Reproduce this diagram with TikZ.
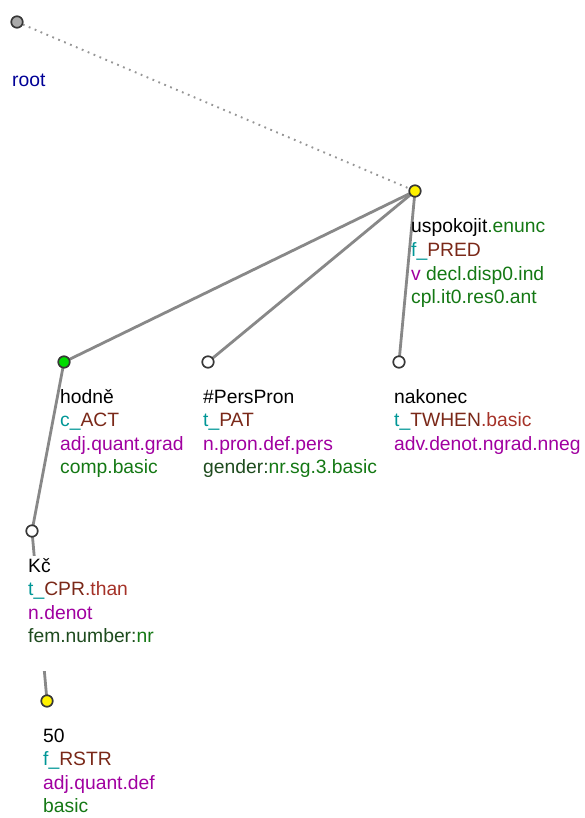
\documentclass[tikz,border=0pt]{standalone}
\usepackage{fontspec}
\setmainfont{Liberation Sans}
\definecolor{tealc}{RGB}{0,150,150}
\definecolor{brownc}{RGB}{122,40,24}
\definecolor{lbrown}{RGB}{165,50,40}
\definecolor{purp}{RGB}{160,0,160}
\definecolor{grn}{RGB}{20,120,20}
\definecolor{dgrn}{RGB}{30,75,30}
\definecolor{rootblue}{RGB}{0,0,150}
\definecolor{edgegray}{RGB}{136,136,136}
\definecolor{dotgray}{RGB}{150,150,150}
\begin{document}
\begin{tikzpicture}[x=1pt,y=-1pt,
  tnode/.style={circle,draw={rgb,255:red,55;green,55;blue,55},line width=1.7pt,minimum size=11.5pt,inner sep=0pt},
  lbl/.style={anchor=base west,inner sep=0pt,font=\fontsize{19.3}{22}\selectfont},
  boxed/.style={fill=white,text height=16pt,text depth=8pt},
  edge/.style={draw=edgegray,line width=2.8pt},
  rootedge/.style={draw=dotgray,line width=1.9pt,dash pattern=on 1.8pt off 4.6pt}]
\useasboundingbox (0,0) rectangle (585,818);
% edges first
\coordinate (cr) at (17,22);
\coordinate (cu) at (415,191);
\coordinate (ch) at (64,362);
\coordinate (cp) at (208,362);
\coordinate (cn) at (399,362);
\coordinate (ck) at (32,531);
\coordinate (c5) at (47,701);
\draw[rootedge] (cr) -- (cu);
\draw[edge] (cu) -- (ch);
\draw[edge] (cu) -- (cp);
\draw[edge] (cu) -- (cn);
\draw[edge] (ch) -- (ck);
\draw[edge] (ck) -- (c5);
% nodes
\node[tnode,fill={rgb,255:red,170;green,170;blue,170}] (root) at (cr) {};
\node[tnode,fill=yellow] (usp) at (cu) {};
\node[tnode,fill={rgb,255:red,0;green,220;blue,0}] (hod) at (ch) {};
\node[tnode,fill=white] (pp) at (cp) {};
\node[tnode,fill=white] (nak) at (cn) {};
\node[tnode,fill=white] (kc) at (ck) {};
\node[tnode,fill=yellow] (n50) at (c5) {};
% labels
\node[lbl,text=rootblue] (lroot) at (12,87) {root};
\node[lbl] (u1) at (411,233) {uspokojit\textcolor{grn}{.enunc}};
\node[lbl] (u2) at (411,256.5) {\textcolor{tealc}{f\_}\textcolor{brownc}{PRED}};
\node[lbl] (u3) at (411,280) {\textcolor{purp}{v} \textcolor{grn}{decl.disp0.ind}};
\node[lbl,text=grn] (u4) at (411,303.5) {cpl.it0.res0.ant};
\node[lbl] (h1) at (60,403) {hodně};
\node[lbl] (h2) at (60,426.5) {\textcolor{tealc}{c\_}\textcolor{brownc}{ACT}};
\node[lbl,text=purp] (h3) at (60,450) {adj.quant.grad};
\node[lbl,text=grn] (h4) at (60,473.5) {comp.basic};
\node[lbl] (p1) at (203,403) {\#PersPron};
\node[lbl] (p2) at (203,426.5) {\textcolor{tealc}{t\_}\textcolor{brownc}{PAT}};
\node[lbl,text=purp] (p3) at (203,450) {n.pron.def.pers};
\node[lbl] (p4) at (203,473.5) {\textcolor{dgrn}{gender:}\textcolor{grn}{nr.sg.3.basic}};
\node[lbl] (k1) at (394,403) {nakonec};
\node[lbl] (k2) at (394,426.5) {\textcolor{tealc}{t\_}\textcolor{brownc}{TWHEN}\textcolor{lbrown}{.basic}};
\node[lbl,text=purp] (k3) at (394,450) {adv.denot.ngrad.nneg};
\node[lbl,boxed] (c1) at (28,572) {Kč};
\node[lbl,boxed] (c2) at (28,595.5) {\textcolor{tealc}{t\_}\textcolor{brownc}{CPR}\textcolor{lbrown}{.than}};
\node[lbl,boxed,text=purp] (c3) at (28,619) {n.denot};
\node[lbl,boxed,text depth=28pt] (c4) at (28,642.5) {\textcolor{dgrn}{fem.number:}\textcolor{grn}{nr}};
\node[lbl] (f1) at (43,742) {50};
\node[lbl] (f2) at (43,765.5) {\textcolor{tealc}{f\_}\textcolor{brownc}{RSTR}};
\node[lbl,text=purp] (f3) at (43,789) {adj.quant.def};
\node[lbl,text=grn] (f4) at (43,812.5) {basic};
\end{tikzpicture}
\end{document}
